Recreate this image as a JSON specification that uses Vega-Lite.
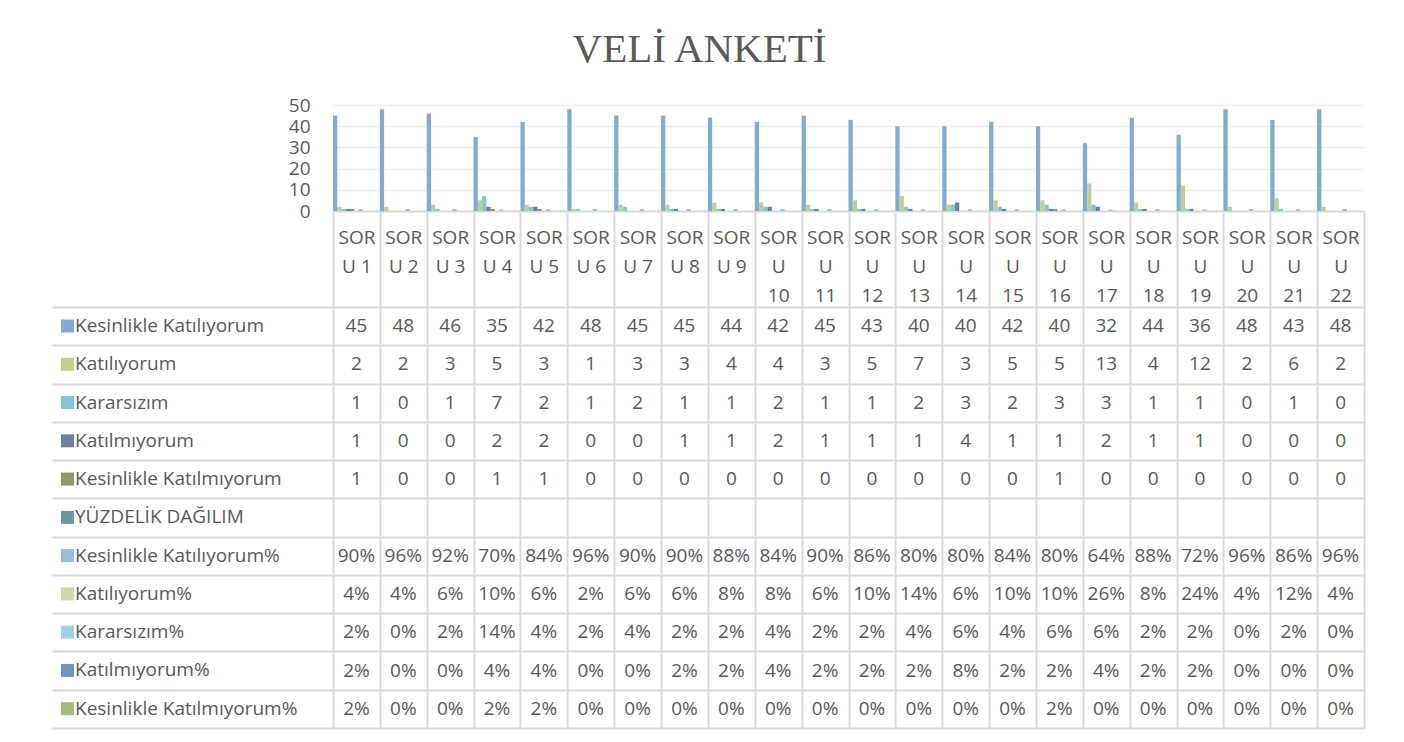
{
  "$schema": "https://vega.github.io/schema/vega-lite/v6.json",
  "width": 1031,
  "height": 623,
  "autosize": {"type": "none"},
  "padding": {"left": 333, "top": 105, "right": 40, "bottom": 14},
  "background": "white",
  "title": {"text": "VELİ ANKETİ", "font": "Liberation Serif", "fontSize": 41, "fontWeight": "normal", "color": "#595959", "anchor": "middle", "offset": 25, "dx": -149},
  "config": {"font": "Open Sans", "view": {"stroke": null}},
  "data": {"values": [
    {"q":"SORU 1","s":"Kesinlikle Katılıyorum","v":45},{"q":"SORU 2","s":"Kesinlikle Katılıyorum","v":48},{"q":"SORU 3","s":"Kesinlikle Katılıyorum","v":46},{"q":"SORU 4","s":"Kesinlikle Katılıyorum","v":35},{"q":"SORU 5","s":"Kesinlikle Katılıyorum","v":42},{"q":"SORU 6","s":"Kesinlikle Katılıyorum","v":48},{"q":"SORU 7","s":"Kesinlikle Katılıyorum","v":45},{"q":"SORU 8","s":"Kesinlikle Katılıyorum","v":45},{"q":"SORU 9","s":"Kesinlikle Katılıyorum","v":44},{"q":"SORU 10","s":"Kesinlikle Katılıyorum","v":42},{"q":"SORU 11","s":"Kesinlikle Katılıyorum","v":45},{"q":"SORU 12","s":"Kesinlikle Katılıyorum","v":43},{"q":"SORU 13","s":"Kesinlikle Katılıyorum","v":40},{"q":"SORU 14","s":"Kesinlikle Katılıyorum","v":40},{"q":"SORU 15","s":"Kesinlikle Katılıyorum","v":42},{"q":"SORU 16","s":"Kesinlikle Katılıyorum","v":40},{"q":"SORU 17","s":"Kesinlikle Katılıyorum","v":32},{"q":"SORU 18","s":"Kesinlikle Katılıyorum","v":44},{"q":"SORU 19","s":"Kesinlikle Katılıyorum","v":36},{"q":"SORU 20","s":"Kesinlikle Katılıyorum","v":48},{"q":"SORU 21","s":"Kesinlikle Katılıyorum","v":43},{"q":"SORU 22","s":"Kesinlikle Katılıyorum","v":48},
    {"q":"SORU 1","s":"Katılıyorum","v":2},{"q":"SORU 2","s":"Katılıyorum","v":2},{"q":"SORU 3","s":"Katılıyorum","v":3},{"q":"SORU 4","s":"Katılıyorum","v":5},{"q":"SORU 5","s":"Katılıyorum","v":3},{"q":"SORU 6","s":"Katılıyorum","v":1},{"q":"SORU 7","s":"Katılıyorum","v":3},{"q":"SORU 8","s":"Katılıyorum","v":3},{"q":"SORU 9","s":"Katılıyorum","v":4},{"q":"SORU 10","s":"Katılıyorum","v":4},{"q":"SORU 11","s":"Katılıyorum","v":3},{"q":"SORU 12","s":"Katılıyorum","v":5},{"q":"SORU 13","s":"Katılıyorum","v":7},{"q":"SORU 14","s":"Katılıyorum","v":3},{"q":"SORU 15","s":"Katılıyorum","v":5},{"q":"SORU 16","s":"Katılıyorum","v":5},{"q":"SORU 17","s":"Katılıyorum","v":13},{"q":"SORU 18","s":"Katılıyorum","v":4},{"q":"SORU 19","s":"Katılıyorum","v":12},{"q":"SORU 20","s":"Katılıyorum","v":2},{"q":"SORU 21","s":"Katılıyorum","v":6},{"q":"SORU 22","s":"Katılıyorum","v":2},
    {"q":"SORU 1","s":"Kararsızım","v":1},{"q":"SORU 2","s":"Kararsızım","v":0},{"q":"SORU 3","s":"Kararsızım","v":1},{"q":"SORU 4","s":"Kararsızım","v":7},{"q":"SORU 5","s":"Kararsızım","v":2},{"q":"SORU 6","s":"Kararsızım","v":1},{"q":"SORU 7","s":"Kararsızım","v":2},{"q":"SORU 8","s":"Kararsızım","v":1},{"q":"SORU 9","s":"Kararsızım","v":1},{"q":"SORU 10","s":"Kararsızım","v":2},{"q":"SORU 11","s":"Kararsızım","v":1},{"q":"SORU 12","s":"Kararsızım","v":1},{"q":"SORU 13","s":"Kararsızım","v":2},{"q":"SORU 14","s":"Kararsızım","v":3},{"q":"SORU 15","s":"Kararsızım","v":2},{"q":"SORU 16","s":"Kararsızım","v":3},{"q":"SORU 17","s":"Kararsızım","v":3},{"q":"SORU 18","s":"Kararsızım","v":1},{"q":"SORU 19","s":"Kararsızım","v":1},{"q":"SORU 20","s":"Kararsızım","v":0},{"q":"SORU 21","s":"Kararsızım","v":1},{"q":"SORU 22","s":"Kararsızım","v":0},
    {"q":"SORU 1","s":"Katılmıyorum","v":1},{"q":"SORU 2","s":"Katılmıyorum","v":0},{"q":"SORU 3","s":"Katılmıyorum","v":0},{"q":"SORU 4","s":"Katılmıyorum","v":2},{"q":"SORU 5","s":"Katılmıyorum","v":2},{"q":"SORU 6","s":"Katılmıyorum","v":0},{"q":"SORU 7","s":"Katılmıyorum","v":0},{"q":"SORU 8","s":"Katılmıyorum","v":1},{"q":"SORU 9","s":"Katılmıyorum","v":1},{"q":"SORU 10","s":"Katılmıyorum","v":2},{"q":"SORU 11","s":"Katılmıyorum","v":1},{"q":"SORU 12","s":"Katılmıyorum","v":1},{"q":"SORU 13","s":"Katılmıyorum","v":1},{"q":"SORU 14","s":"Katılmıyorum","v":4},{"q":"SORU 15","s":"Katılmıyorum","v":1},{"q":"SORU 16","s":"Katılmıyorum","v":1},{"q":"SORU 17","s":"Katılmıyorum","v":2},{"q":"SORU 18","s":"Katılmıyorum","v":1},{"q":"SORU 19","s":"Katılmıyorum","v":1},{"q":"SORU 20","s":"Katılmıyorum","v":0},{"q":"SORU 21","s":"Katılmıyorum","v":0},{"q":"SORU 22","s":"Katılmıyorum","v":0},
    {"q":"SORU 1","s":"Kesinlikle Katılmıyorum","v":1},{"q":"SORU 2","s":"Kesinlikle Katılmıyorum","v":0},{"q":"SORU 3","s":"Kesinlikle Katılmıyorum","v":0},{"q":"SORU 4","s":"Kesinlikle Katılmıyorum","v":1},{"q":"SORU 5","s":"Kesinlikle Katılmıyorum","v":1},{"q":"SORU 6","s":"Kesinlikle Katılmıyorum","v":0},{"q":"SORU 7","s":"Kesinlikle Katılmıyorum","v":0},{"q":"SORU 8","s":"Kesinlikle Katılmıyorum","v":0},{"q":"SORU 9","s":"Kesinlikle Katılmıyorum","v":0},{"q":"SORU 10","s":"Kesinlikle Katılmıyorum","v":0},{"q":"SORU 11","s":"Kesinlikle Katılmıyorum","v":0},{"q":"SORU 12","s":"Kesinlikle Katılmıyorum","v":0},{"q":"SORU 13","s":"Kesinlikle Katılmıyorum","v":0},{"q":"SORU 14","s":"Kesinlikle Katılmıyorum","v":0},{"q":"SORU 15","s":"Kesinlikle Katılmıyorum","v":0},{"q":"SORU 16","s":"Kesinlikle Katılmıyorum","v":1},{"q":"SORU 17","s":"Kesinlikle Katılmıyorum","v":0},{"q":"SORU 18","s":"Kesinlikle Katılmıyorum","v":0},{"q":"SORU 19","s":"Kesinlikle Katılmıyorum","v":0},{"q":"SORU 20","s":"Kesinlikle Katılmıyorum","v":0},{"q":"SORU 21","s":"Kesinlikle Katılmıyorum","v":0},{"q":"SORU 22","s":"Kesinlikle Katılmıyorum","v":0},
    {"q":"SORU 1","s":"Kesinlikle Katılıyorum%","v":0.90},{"q":"SORU 2","s":"Kesinlikle Katılıyorum%","v":0.96},{"q":"SORU 3","s":"Kesinlikle Katılıyorum%","v":0.92},{"q":"SORU 4","s":"Kesinlikle Katılıyorum%","v":0.70},{"q":"SORU 5","s":"Kesinlikle Katılıyorum%","v":0.84},{"q":"SORU 6","s":"Kesinlikle Katılıyorum%","v":0.96},{"q":"SORU 7","s":"Kesinlikle Katılıyorum%","v":0.90},{"q":"SORU 8","s":"Kesinlikle Katılıyorum%","v":0.90},{"q":"SORU 9","s":"Kesinlikle Katılıyorum%","v":0.88},{"q":"SORU 10","s":"Kesinlikle Katılıyorum%","v":0.84},{"q":"SORU 11","s":"Kesinlikle Katılıyorum%","v":0.90},{"q":"SORU 12","s":"Kesinlikle Katılıyorum%","v":0.86},{"q":"SORU 13","s":"Kesinlikle Katılıyorum%","v":0.80},{"q":"SORU 14","s":"Kesinlikle Katılıyorum%","v":0.80},{"q":"SORU 15","s":"Kesinlikle Katılıyorum%","v":0.84},{"q":"SORU 16","s":"Kesinlikle Katılıyorum%","v":0.80},{"q":"SORU 17","s":"Kesinlikle Katılıyorum%","v":0.64},{"q":"SORU 18","s":"Kesinlikle Katılıyorum%","v":0.88},{"q":"SORU 19","s":"Kesinlikle Katılıyorum%","v":0.72},{"q":"SORU 20","s":"Kesinlikle Katılıyorum%","v":0.96},{"q":"SORU 21","s":"Kesinlikle Katılıyorum%","v":0.86},{"q":"SORU 22","s":"Kesinlikle Katılıyorum%","v":0.96},
    {"q":"SORU 1","s":"Katılıyorum%","v":0.04},{"q":"SORU 2","s":"Katılıyorum%","v":0.04},{"q":"SORU 3","s":"Katılıyorum%","v":0.06},{"q":"SORU 4","s":"Katılıyorum%","v":0.10},{"q":"SORU 5","s":"Katılıyorum%","v":0.06},{"q":"SORU 6","s":"Katılıyorum%","v":0.02},{"q":"SORU 7","s":"Katılıyorum%","v":0.06},{"q":"SORU 8","s":"Katılıyorum%","v":0.06},{"q":"SORU 9","s":"Katılıyorum%","v":0.08},{"q":"SORU 10","s":"Katılıyorum%","v":0.08},{"q":"SORU 11","s":"Katılıyorum%","v":0.06},{"q":"SORU 12","s":"Katılıyorum%","v":0.10},{"q":"SORU 13","s":"Katılıyorum%","v":0.14},{"q":"SORU 14","s":"Katılıyorum%","v":0.06},{"q":"SORU 15","s":"Katılıyorum%","v":0.10},{"q":"SORU 16","s":"Katılıyorum%","v":0.10},{"q":"SORU 17","s":"Katılıyorum%","v":0.26},{"q":"SORU 18","s":"Katılıyorum%","v":0.08},{"q":"SORU 19","s":"Katılıyorum%","v":0.24},{"q":"SORU 20","s":"Katılıyorum%","v":0.04},{"q":"SORU 21","s":"Katılıyorum%","v":0.12},{"q":"SORU 22","s":"Katılıyorum%","v":0.04},
    {"q":"SORU 1","s":"Kararsızım%","v":0.02},{"q":"SORU 2","s":"Kararsızım%","v":0},{"q":"SORU 3","s":"Kararsızım%","v":0.02},{"q":"SORU 4","s":"Kararsızım%","v":0.14},{"q":"SORU 5","s":"Kararsızım%","v":0.04},{"q":"SORU 6","s":"Kararsızım%","v":0.02},{"q":"SORU 7","s":"Kararsızım%","v":0.04},{"q":"SORU 8","s":"Kararsızım%","v":0.02},{"q":"SORU 9","s":"Kararsızım%","v":0.02},{"q":"SORU 10","s":"Kararsızım%","v":0.04},{"q":"SORU 11","s":"Kararsızım%","v":0.02},{"q":"SORU 12","s":"Kararsızım%","v":0.02},{"q":"SORU 13","s":"Kararsızım%","v":0.04},{"q":"SORU 14","s":"Kararsızım%","v":0.06},{"q":"SORU 15","s":"Kararsızım%","v":0.04},{"q":"SORU 16","s":"Kararsızım%","v":0.06},{"q":"SORU 17","s":"Kararsızım%","v":0.06},{"q":"SORU 18","s":"Kararsızım%","v":0.02},{"q":"SORU 19","s":"Kararsızım%","v":0.02},{"q":"SORU 20","s":"Kararsızım%","v":0},{"q":"SORU 21","s":"Kararsızım%","v":0.02},{"q":"SORU 22","s":"Kararsızım%","v":0},
    {"q":"SORU 1","s":"Katılmıyorum%","v":0.02},{"q":"SORU 2","s":"Katılmıyorum%","v":0},{"q":"SORU 3","s":"Katılmıyorum%","v":0},{"q":"SORU 4","s":"Katılmıyorum%","v":0.04},{"q":"SORU 5","s":"Katılmıyorum%","v":0.04},{"q":"SORU 6","s":"Katılmıyorum%","v":0},{"q":"SORU 7","s":"Katılmıyorum%","v":0},{"q":"SORU 8","s":"Katılmıyorum%","v":0.02},{"q":"SORU 9","s":"Katılmıyorum%","v":0.02},{"q":"SORU 10","s":"Katılmıyorum%","v":0.04},{"q":"SORU 11","s":"Katılmıyorum%","v":0.02},{"q":"SORU 12","s":"Katılmıyorum%","v":0.02},{"q":"SORU 13","s":"Katılmıyorum%","v":0.02},{"q":"SORU 14","s":"Katılmıyorum%","v":0.08},{"q":"SORU 15","s":"Katılmıyorum%","v":0.02},{"q":"SORU 16","s":"Katılmıyorum%","v":0.02},{"q":"SORU 17","s":"Katılmıyorum%","v":0.04},{"q":"SORU 18","s":"Katılmıyorum%","v":0.02},{"q":"SORU 19","s":"Katılmıyorum%","v":0.02},{"q":"SORU 20","s":"Katılmıyorum%","v":0},{"q":"SORU 21","s":"Katılmıyorum%","v":0},{"q":"SORU 22","s":"Katılmıyorum%","v":0},
    {"q":"SORU 1","s":"Kesinlikle Katılmıyorum%","v":0.02},{"q":"SORU 2","s":"Kesinlikle Katılmıyorum%","v":0},{"q":"SORU 3","s":"Kesinlikle Katılmıyorum%","v":0},{"q":"SORU 4","s":"Kesinlikle Katılmıyorum%","v":0.02},{"q":"SORU 5","s":"Kesinlikle Katılmıyorum%","v":0.02},{"q":"SORU 6","s":"Kesinlikle Katılmıyorum%","v":0},{"q":"SORU 7","s":"Kesinlikle Katılmıyorum%","v":0},{"q":"SORU 8","s":"Kesinlikle Katılmıyorum%","v":0},{"q":"SORU 9","s":"Kesinlikle Katılmıyorum%","v":0},{"q":"SORU 10","s":"Kesinlikle Katılmıyorum%","v":0},{"q":"SORU 11","s":"Kesinlikle Katılmıyorum%","v":0},{"q":"SORU 12","s":"Kesinlikle Katılmıyorum%","v":0},{"q":"SORU 13","s":"Kesinlikle Katılmıyorum%","v":0},{"q":"SORU 14","s":"Kesinlikle Katılmıyorum%","v":0},{"q":"SORU 15","s":"Kesinlikle Katılmıyorum%","v":0},{"q":"SORU 16","s":"Kesinlikle Katılmıyorum%","v":0.02},{"q":"SORU 17","s":"Kesinlikle Katılmıyorum%","v":0},{"q":"SORU 18","s":"Kesinlikle Katılmıyorum%","v":0},{"q":"SORU 19","s":"Kesinlikle Katılmıyorum%","v":0},{"q":"SORU 20","s":"Kesinlikle Katılmıyorum%","v":0},{"q":"SORU 21","s":"Kesinlikle Katılmıyorum%","v":0},{"q":"SORU 22","s":"Kesinlikle Katılmıyorum%","v":0}
  ]},
  "encoding": {
    "x": {"field": "q", "type": "nominal",
      "scale": {"domain": ["SORU 1","SORU 2","SORU 3","SORU 4","SORU 5","SORU 6","SORU 7","SORU 8","SORU 9","SORU 10","SORU 11","SORU 12","SORU 13","SORU 14","SORU 15","SORU 16","SORU 17","SORU 18","SORU 19","SORU 20","SORU 21","SORU 22"], "paddingInner": 0, "paddingOuter": 0},
      "axis": {"title": null, "orient": "bottom", "offset": -517, "tickBand": "extent", "ticks": true, "tickSize": 517, "tickColor": "#d9d9d9", "tickWidth": 2, "domain": true, "domainColor": "#d9d9d9", "domainWidth": 2, "labelExpr": "!isString(datum.value) ? '' : length(datum.value) < 7 ? ['SOR', substring(datum.value, 3)] : ['SOR', 'U', substring(datum.value, 5)]", "labelAngle": 0, "labelPadding": -491, "labelBaseline": "middle", "labelLineHeight": 29, "labelFontSize": 19, "labelColor": "#595959", "labelOverlap": false}}
  },
  "layer": [
    {
      "mark": {"type": "bar"},
      "encoding": {
        "xOffset": {"field": "s", "type": "nominal",
          "scale": {"domain": ["Kesinlikle Katılıyorum","Katılıyorum","Kararsızım","Katılmıyorum","Kesinlikle Katılmıyorum","YÜZDELİK DAĞILIM","Kesinlikle Katılıyorum%","Katılıyorum%","Kararsızım%","Katılmıyorum%","Kesinlikle Katılmıyorum%"]}},
        "y": {"field": "v", "type": "quantitative",
          "scale": {"domain": [0, 50], "range": [106, 0]},
          "axis": {"title": null, "values": [0, 10, 20, 30, 40, 50], "gridColor": "#eeeeee", "gridWidth": 1.5, "domain": false, "ticks": false, "labelPadding": 23, "labelFontSize": 19, "labelColor": "#595959"}},
        "color": {"field": "s", "type": "nominal",
          "scale": {"domain": ["Kesinlikle Katılıyorum","Katılıyorum","Kararsızım","Katılmıyorum","Kesinlikle Katılmıyorum","YÜZDELİK DAĞILIM","Kesinlikle Katılıyorum%","Katılıyorum%","Kararsızım%","Katılmıyorum%","Kesinlikle Katılmıyorum%"],
            "range": ["#84a9d4","#bdd18e","#80c6d8","#6a829f","#8c9b6a","#6699a3","#9db9de","#c9daa6","#9dd2e0","#7094ba","#a3b97d"]},
          "legend": {"orient": "none", "legendX": -275, "legendY": 211.5, "title": null, "symbolType": "square", "symbolSize": 169, "labelFontSize": 19, "labelColor": "#595959", "labelOffset": -2, "rowPadding": 18.27, "labelLimit": 300}}
      }
    },
    {
      "encoding": {
        "y": {"field": "s", "type": "nominal",
          "scale": {"domain": ["Kesinlikle Katılıyorum","Katılıyorum","Kararsızım","Katılmıyorum","Kesinlikle Katılmıyorum","YÜZDELİK DAĞILIM","Kesinlikle Katılıyorum%","Katılıyorum%","Kararsızım%","Katılmıyorum%","Kesinlikle Katılmıyorum%"], "range": [202, 623], "paddingInner": 0, "paddingOuter": 0},
          "axis": {"title": null, "orient": "left", "labels": false, "grid": true, "tickBand": "extent", "gridColor": "#d9d9d9", "gridWidth": 2, "domain": false, "ticks": true, "tickSize": 281, "tickColor": "#d9d9d9", "tickWidth": 2}}
      },
      "layer": [
        {
          "transform": [{"filter": {"field": "s", "oneOf": ["Kesinlikle Katılıyorum","Katılıyorum","Kararsızım","Katılmıyorum","Kesinlikle Katılmıyorum"]}}],
          "mark": {"type": "text", "fontSize": 19, "color": "#595959"},
          "encoding": {"text": {"field": "v", "type": "quantitative", "format": "d"}}
        },
        {
          "transform": [{"filter": {"field": "s", "oneOf": ["Kesinlikle Katılıyorum%","Katılıyorum%","Kararsızım%","Katılmıyorum%","Kesinlikle Katılmıyorum%"]}}],
          "mark": {"type": "text", "fontSize": 19, "color": "#595959"},
          "encoding": {"text": {"field": "v", "type": "quantitative", "format": ".0%"}}
        }
      ]
    }
  ],
  "resolve": {"scale": {"y": "independent"}, "axis": {"y": "independent"}}
}
